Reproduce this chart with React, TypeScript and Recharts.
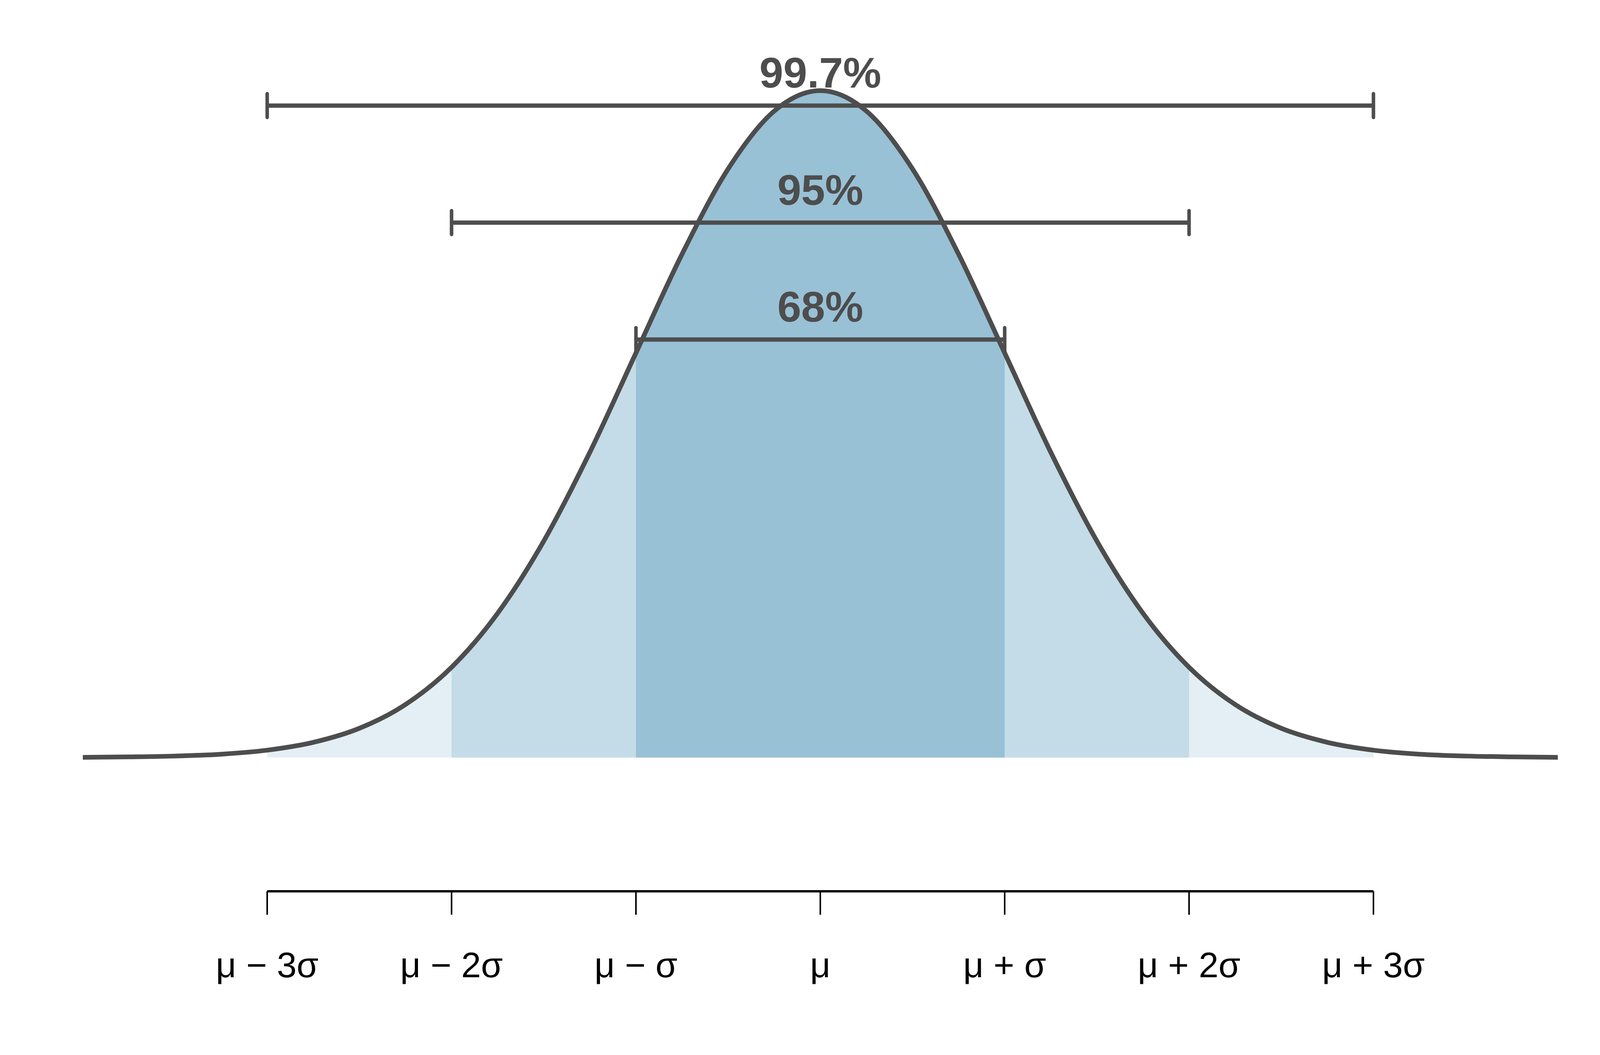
import React from "react";
import {
  ComposedChart,
  Area,
  Line,
  XAxis,
  YAxis,
  ReferenceLine,
} from "recharts";

// Position along the axis, in standard deviations from the mean
const sigmaPositions = [
  -4, -3.75, -3.5, -3.25, -3, -2.75, -2.5, -2.25, -2, -1.75, -1.5, -1.25, -1,
  -0.75, -0.5, -0.25, 0, 0.25, 0.5, 0.75, 1, 1.25, 1.5, 1.75, 2, 2.25, 2.5,
  2.75, 3, 3.25, 3.5, 3.75, 4,
];

// Curve height (density units)
const curveHeights = [
  0.0001, 0.0004, 0.0009, 0.002, 0.0044, 0.0091, 0.0175, 0.0317, 0.054,
  0.0863, 0.1295, 0.1826, 0.242, 0.3011, 0.3521, 0.3867, 0.3989, 0.3867,
  0.3521, 0.3011, 0.242, 0.1826, 0.1295, 0.0863, 0.054, 0.0317, 0.0175,
  0.0091, 0.0044, 0.002, 0.0009, 0.0004, 0.0001,
];

// Axis ticks and labels
const tickPositions = [-3, -2, -1, 0, 1, 2, 3];
const tickLabels = [
  "μ − 3σ",
  "μ − 2σ",
  "μ − σ",
  "μ",
  "μ + σ",
  "μ + 2σ",
  "μ + 3σ",
];

// Shaded bands (half-width in σ) and their colours, outermost first
const bandHalfWidths = [3, 2, 1];
const bandColors = ["#e3eff4", "#c3dce7", "#99c1d6"];

// Brackets
const bracketLabels = ["99.7%", "95%", "68%"];
const bracketHalfWidths = [3, 2, 1];
const bracketHeights = [0.39, 0.32, 0.25];

const Y_MIN = -0.08;
const Y_MAX = 0.43;
const CAP = 0.0071;
const INK = "#4d4d4d";

const data = sigmaPositions.map((x, i) => {
  const row: Record<string, number | null> = { x, y: curveHeights[i] };
  bandHalfWidths.forEach((hw, b) => {
    row[`band${b}`] = Math.abs(x) <= hw ? curveHeights[i] : null;
  });
  return row;
});

const tickMap: Record<string, string> = {};
tickPositions.forEach((p, i) => {
  tickMap[String(p)] = tickLabels[i];
});

const TickLabel = (props: any) => {
  const { x, y, payload } = props;
  return (
    <text
      x={x}
      y={y + 160}
      textAnchor="middle"
      fontFamily="'Liberation Sans', Arial, Helvetica, sans-serif"
      fontSize={91}
      fill="#000"
    >
      {tickMap[String(payload.value)]}
    </text>
  );
};

export default function App() {
  return (
    <div
      style={{
        position: "absolute",
        left: 0,
        top: 0,
        width: 4200,
        height: 2700,
        background: "#fff",
      }}
    >
      <ComposedChart
        width={4200}
        height={2700}
        data={data}
        margin={{ top: 99, right: 212, bottom: 119, left: 212 }}
      >
        <XAxis
          dataKey="x"
          type="number"
          domain={[-4, 4]}
          ticks={tickPositions}
          interval={0}
          axisLine={false}
          tickLine={{ stroke: "#000", strokeWidth: 4 }}
          tickSize={60}
          tickMargin={0}
          height={300}
          tick={<TickLabel />}
          allowDataOverflow
        />
        <YAxis hide type="number" domain={[Y_MIN, Y_MAX]} allowDataOverflow />
        {bandHalfWidths.map((hw, b) => (
          <Area
            key={`band${b}`}
            dataKey={`band${b}`}
            type="monotone"
            stroke="none"
            fill={bandColors[b]}
            fillOpacity={1}
            baseValue={0}
            connectNulls={false}
            isAnimationActive={false}
            dot={false}
            activeDot={false}
          />
        ))}
        <ReferenceLine
          segment={[
            { x: tickPositions[0], y: Y_MIN },
            { x: tickPositions[tickPositions.length - 1], y: Y_MIN },
          ]}
          stroke="#000"
          strokeWidth={6}
          ifOverflow="visible"
        />
        {bracketLabels.map((lab, i) => {
          const hw = bracketHalfWidths[i];
          const h = bracketHeights[i];
          return (
            <React.Fragment key={lab}>
              <ReferenceLine
                segment={[
                  { x: -hw, y: h },
                  { x: hw, y: h },
                ]}
                stroke={INK}
                strokeWidth={11}
                ifOverflow="visible"
                label={{
                  value: lab,
                  position: "top",
                  offset: 46,
                  fill: INK,
                  fontSize: 110,
                  fontWeight: "bold",
                  fontFamily: "'Liberation Sans', Arial, Helvetica, sans-serif",
                }}
              />
              <ReferenceLine
                segment={[
                  { x: -hw, y: h - CAP },
                  { x: -hw, y: h + CAP },
                ]}
                stroke={INK}
                strokeWidth={9}
                strokeLinecap="round"
                ifOverflow="visible"
              />
              <ReferenceLine
                segment={[
                  { x: hw, y: h - CAP },
                  { x: hw, y: h + CAP },
                ]}
                stroke={INK}
                strokeWidth={9}
                strokeLinecap="round"
                ifOverflow="visible"
              />
            </React.Fragment>
          );
        })}
        <Line
          dataKey="y"
          type="monotone"
          stroke={INK}
          strokeWidth={12}
          strokeLinecap="round"
          dot={false}
          activeDot={false}
          isAnimationActive={false}
        />
      </ComposedChart>
    </div>
  );
}
